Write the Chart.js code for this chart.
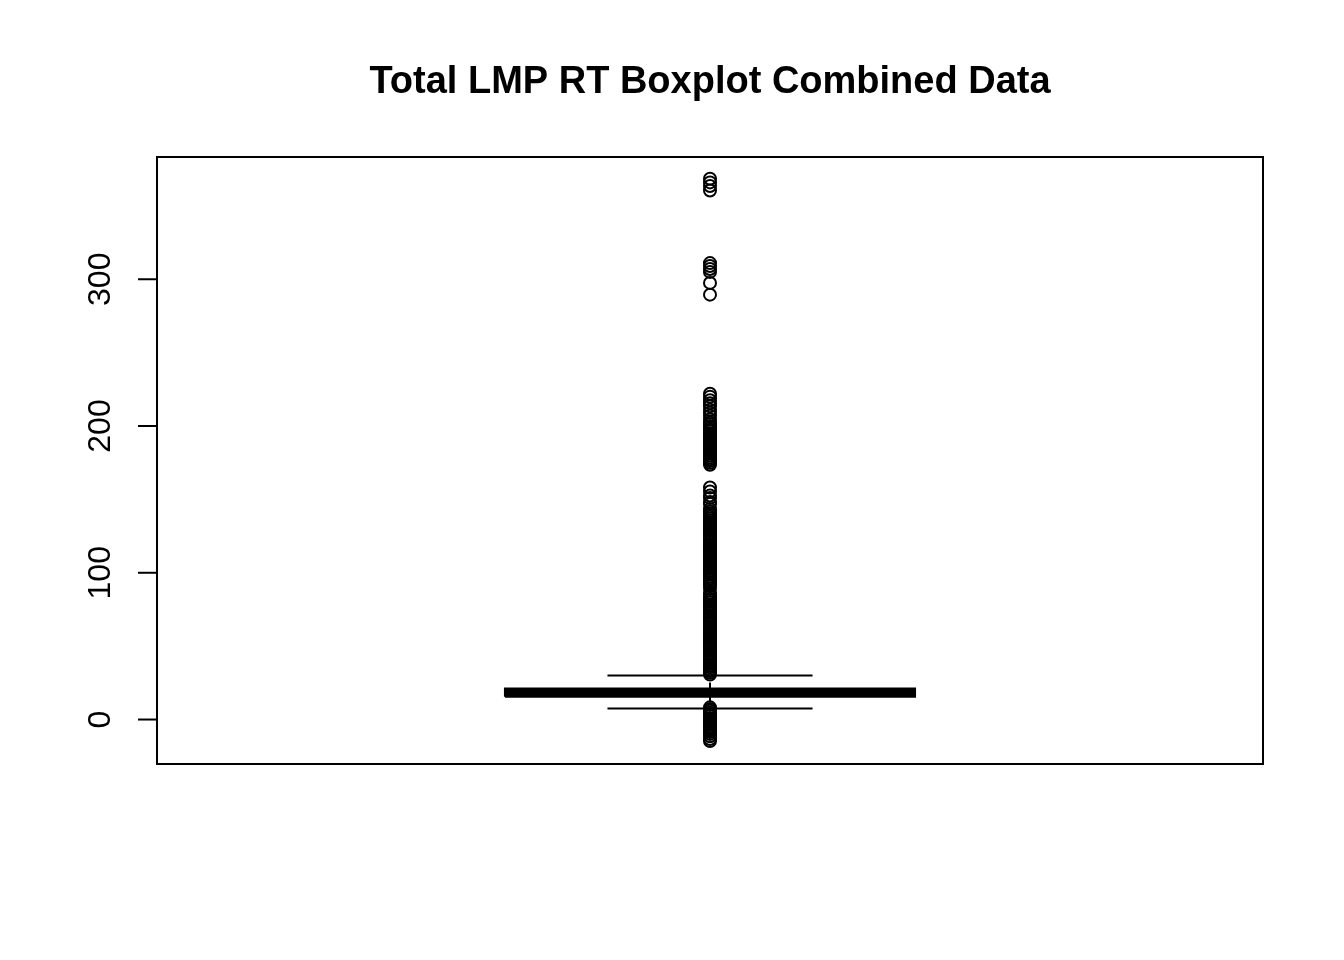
<!DOCTYPE html>
<html>
<head>
<meta charset="utf-8">
<title>Total LMP RT Boxplot Combined Data</title>
<script src="https://cdn.jsdelivr.net/npm/chart.js@4.4.1/dist/chart.umd.min.js"></script>
<style>
    html, body { margin: 0; padding: 0; background: #fff; }
    canvas { display: block; }
</style>
</head>
<body>
<canvas id="boxChart" width="1344" height="960" style="width:1344px;height:960px"></canvas>
<script>
// Boxplot data
var titleText = 'Total LMP RT Boxplot Combined Data';
var yTicks = [0, 100, 200, 300];
var yRange = [-30.3, 383.3];

// five number summary
var q1 = 15.6;
var median = 18.4;
var q3 = 21.1;
var whiskerLow = 7.5;
var whiskerHigh = 30;

// outliers below the lower whisker
var lowOutliers = [
    8.3, 7.2, 5.9, 4.6, 3.5, 2.4, 1.1, -0.2, -1.3, -2.5, -3.8, -4.9, -6.1,
    -7.4, -8.5, -9.8, -11.4, -13.3, -14.7
];

// outliers above the upper whisker
var highOutliers = [
    30.6, 31.9, 33.1, 34.2, 35.6, 36.8, 37.9, 39.3, 40.5, 41.6, 42.9, 44.2, 45.3,
    46.7, 47.9, 49.0, 50.4, 51.6, 52.7, 54.1, 55.3, 56.4, 57.8, 59.0, 60.1, 61.5,
    62.7, 63.8, 65.2, 66.4, 67.5, 68.9, 70.1, 71.2, 72.6, 73.8, 74.9, 76.3, 77.5,
    78.6, 80.0, 81.2, 82.3, 83.7, 84.9, 86.4, 89.2, 91.3, 92.6, 93.7, 95.1, 96.2,
    97.4, 98.8, 99.9, 101.1, 102.5, 103.6, 104.8, 106.2, 107.3, 108.5, 109.9,
    111.0, 112.2, 113.6, 114.7, 115.9, 117.3, 118.4, 119.6, 121.0, 122.1, 123.3,
    124.7, 125.8, 127.0, 128.4, 129.5, 130.7, 132.1, 133.2, 134.4, 135.8, 136.9,
    138.1, 139.5, 140.6, 141.8, 143.4, 146.8, 148.3, 150.9, 152.6, 155.4, 158.1,
    173.6, 174.9, 176.2, 177.4, 178.6, 179.9, 181.1, 182.4, 183.7, 184.9, 186.1,
    187.4, 188.7, 189.9, 191.1, 192.4, 193.7, 194.9, 196.2, 197.4, 198.6, 199.9,
    201.2, 202.4, 204.5, 207.0, 209.1, 211.0, 213.5, 215.5, 217.6, 220.0, 222.0,
    289.5, 297.5, 305.0, 307.0, 309.0, 311.0,
    360.5, 363.5, 366.0, 368.5
];

// horizontal placement of the box (x axis runs 0..1)
var boxCenter = 0.5;
var boxHalf = 0.1854;
var stapleHalf = 0.0927;

function pts(xs, ys) {
    return xs.map(function(x, i) { return { x: x, y: ys[i] }; });
}

function lineSet(data, width, dash) {
    return {
        data: data,
        showLine: true,
        borderColor: '#000',
        borderWidth: width,
        borderDash: dash || [],
        pointRadius: 0,
        fill: false,
        clip: false
    };
}

var outlierPoints = lowOutliers.concat(highOutliers).map(function(v) {
    return { x: boxCenter, y: v };
});

var datasets = [
    // box
    lineSet(pts(
        [boxCenter - boxHalf, boxCenter + boxHalf, boxCenter + boxHalf, boxCenter - boxHalf, boxCenter - boxHalf],
        [q1, q1, q3, q3, q1]), 2),
    // median
    lineSet(pts([boxCenter - boxHalf, boxCenter + boxHalf], [median, median]), 7),
    // whiskers
    lineSet(pts([boxCenter, boxCenter], [q3, whiskerHigh]), 2, [6, 6]),
    lineSet(pts([boxCenter, boxCenter], [q1, whiskerLow]), 2, [6, 6]),
    // staples
    lineSet(pts([boxCenter - stapleHalf, boxCenter + stapleHalf], [whiskerHigh, whiskerHigh]), 2),
    lineSet(pts([boxCenter - stapleHalf, boxCenter + stapleHalf], [whiskerLow, whiskerLow]), 2),
    // outliers
    {
        data: outlierPoints,
        showLine: false,
        pointStyle: 'circle',
        pointRadius: 6,
        borderColor: '#000',
        borderWidth: 2,
        backgroundColor: 'rgba(0,0,0,0)',
        clip: false
    }
];

// R style frame, axis, tick labels and title
var rFrame = {
    id: 'rFrame',
    afterDraw: function(chart) {
        var ctx = chart.ctx;
        var area = chart.chartArea;
        var yScale = chart.scales.y;
        ctx.save();
        ctx.strokeStyle = '#000';
        ctx.lineWidth = 2;
        ctx.strokeRect(area.left, area.top, area.right - area.left, area.bottom - area.top);

        // axis line from first to last tick
        var yFirst = yScale.getPixelForValue(yTicks[0]);
        var yLast = yScale.getPixelForValue(yTicks[yTicks.length - 1]);
        ctx.beginPath();
        ctx.moveTo(area.left, yFirst);
        ctx.lineTo(area.left, yLast);
        ctx.stroke();

        ctx.fillStyle = '#000';
        ctx.font = '32px "Liberation Sans", Arial, sans-serif';
        ctx.textAlign = 'center';
        ctx.textBaseline = 'middle';
        yTicks.forEach(function(t) {
            var py = yScale.getPixelForValue(t);
            ctx.beginPath();
            ctx.moveTo(area.left, py);
            ctx.lineTo(area.left - 19, py);
            ctx.stroke();
            ctx.save();
            ctx.translate(101, py);
            ctx.rotate(-Math.PI / 2);
            ctx.fillText(String(t), 0, 0);
            ctx.restore();
        });

        ctx.font = 'bold 38px "Liberation Sans", Arial, sans-serif';
        ctx.textBaseline = 'alphabetic';
        ctx.fillText(titleText, (area.left + area.right) / 2, 93);
        ctx.restore();
    }
};

var ctx = document.getElementById('boxChart').getContext('2d');
new Chart(ctx, {
    type: 'scatter',
    data: { datasets: datasets },
    options: {
        responsive: false,
        animation: false,
        devicePixelRatio: 1,
        layout: {
            padding: { left: 157, top: 157, right: 81, bottom: 196 }
        },
        scales: {
            x: { type: 'linear', display: false, min: 0, max: 1 },
            y: { type: 'linear', display: false, min: yRange[0], max: yRange[1] }
        },
        plugins: {
            legend: { display: false },
            tooltip: { enabled: false },
            title: { display: false }
        }
    },
    plugins: [rFrame]
});
</script>
</body>
</html>
